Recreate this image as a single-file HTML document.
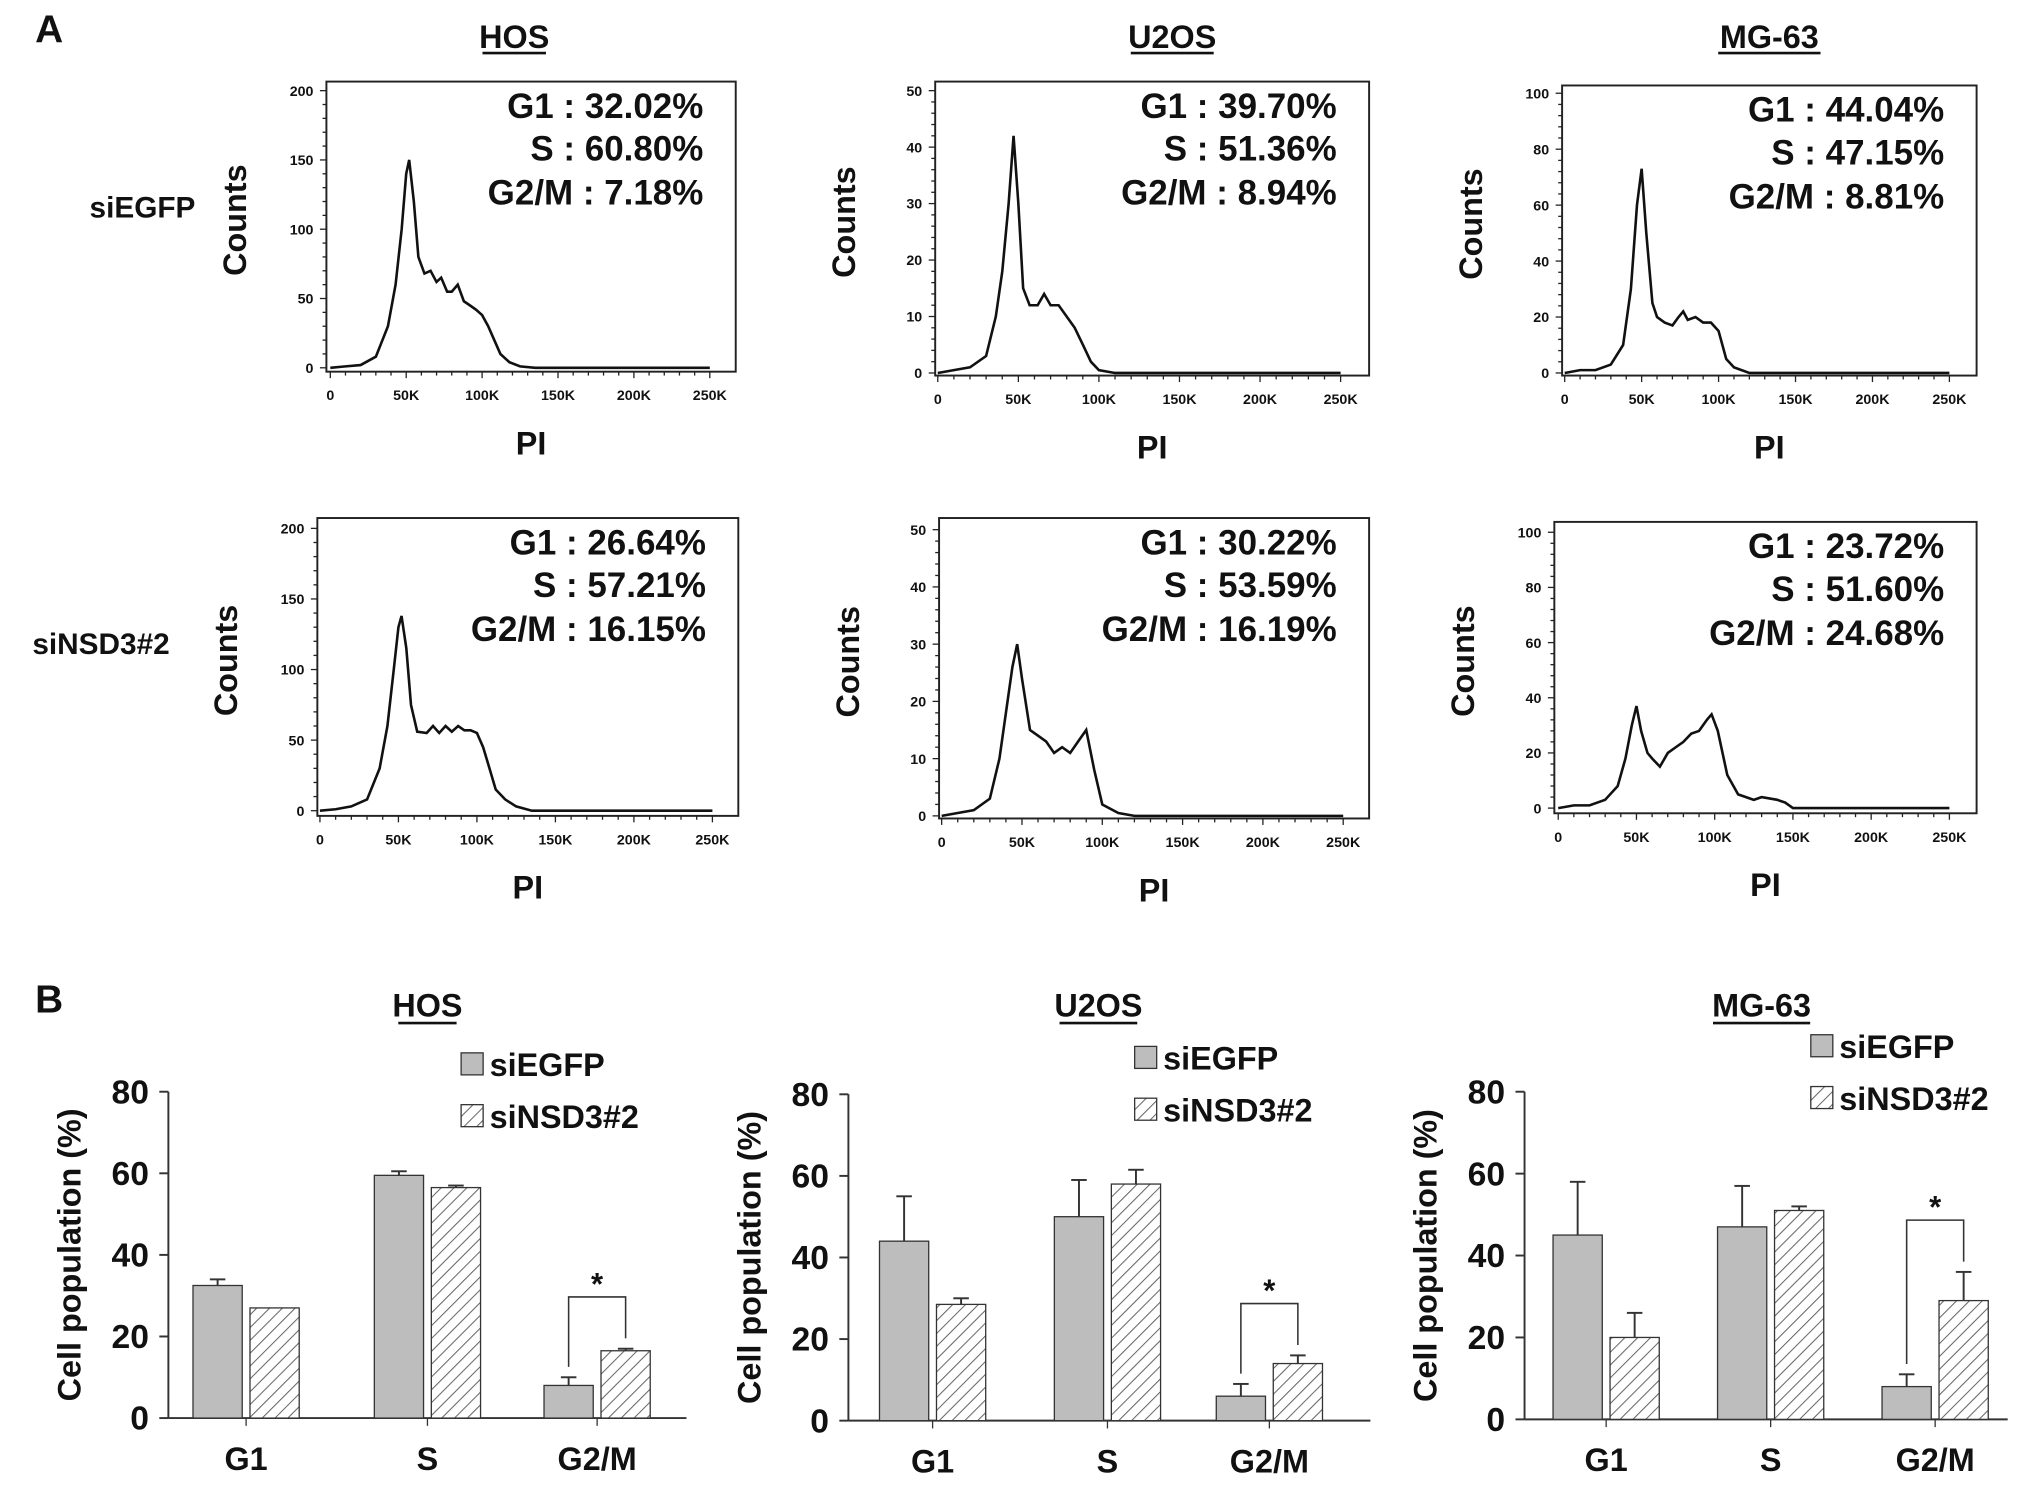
<!DOCTYPE html>
<html><head><meta charset="utf-8"><style>
html,body{margin:0;padding:0;background:#fff}
svg{display:block}
text{font-family:"Liberation Sans",Arial,sans-serif;font-weight:bold;fill:#111}
</style></head><body>
<svg id="fig" width="2031" height="1488" viewBox="0 0 1568 1149" preserveAspectRatio="none" xmlns="http://www.w3.org/2000/svg"></svg>
<script>
// ---------- Histogram data (PI in K, counts) ----------
const hosCtrlX=[0,10,20,30,38,43,47,50,52,55,58,62,66,70,73,77,80,84,88,92,96,100,104,108,112,118,125,135,250];
const hosCtrlY=[0,1,2,8,30,60,100,140,150,120,80,68,70,62,65,55,55,60,48,45,42,38,30,20,10,4,1,0,0];
const hosKdX=[0,10,20,30,38,43,47,50,52,55,58,62,68,72,76,80,84,88,92,96,100,104,108,112,118,125,135,250];
const hosKdY=[0,1,3,8,30,60,100,130,138,115,75,56,55,60,55,60,56,60,57,57,55,45,30,15,8,3,0,0];
const u2CtrlX=[0,10,20,30,36,40,44,47,50,53,57,62,66,70,75,80,85,90,95,100,110,250];
const u2CtrlY=[0,0.5,1,3,10,18,30,42,30,15,12,12,14,12,12,10,8,5,2,0.5,0,0];
const u2KdX=[0,10,20,30,36,40,44,47,50,55,60,65,70,75,80,85,90,95,100,110,120,250];
const u2KdY=[0,0.5,1,3,10,18,26,30,24,15,14,13,11,12,11,13,15,8,2,0.5,0,0];
const mgCtrlX=[0,10,20,30,38,43,47,50,53,57,60,65,70,74,77,80,85,90,95,100,105,110,120,250];
const mgCtrlY=[0,1,1,3,10,30,60,73,50,25,20,18,17,20,22,19,20,18,18,15,5,2,0,0];
const mgKdX=[0,10,20,30,38,43,47,50,53,57,60,65,70,75,80,85,90,95,98,102,108,115,125,130,140,145,150,250];
const mgKdY=[0,1,1,3,8,18,30,37,28,20,18,15,20,22,24,27,28,32,34,28,12,5,3,4,3,2,0,0];
const g1Text=["G1 : 32.02%","G1 : 39.70%","G1 : 44.04%","G1 : 26.64%","G1 : 30.22%","G1 : 23.72%"];
const sText=["S : 60.80%","S : 51.36%","S : 47.15%","S : 57.21%","S : 53.59%","S : 51.60%"];
const g2Text=["G2/M : 7.18%","G2/M : 8.94%","G2/M : 8.81%","G2/M : 16.15%","G2/M : 16.19%","G2/M : 24.68%"];
const xTickLabels=["0","50K","100K","150K","200K","250K"];
// ---------- Bar data ----------
const phases=["G1","S","G2/M"];
const hosEgfp=[32.5,59.5,8]; const hosEgfpErr=[1.5,1,2];
const hosNsd=[27,56.5,16.5]; const hosNsdErr=[0,0.5,0.5];
const u2Egfp=[44,50,6]; const u2EgfpErr=[11,9,3];
const u2Nsd=[28.5,58,14]; const u2NsdErr=[1.5,3.5,2];
const mgEgfp=[45,47,8]; const mgEgfpErr=[13,10,3];
const mgNsd=[20,51,29]; const mgNsdErr=[6,1,7];
const barTicks=[0,20,40,60,80];

const S="http://www.w3.org/2000/svg", svg=document.getElementById('fig');
function el(t,a,p){const e=document.createElementNS(S,t);for(const k in a)e.setAttribute(k,a[k]);(p||svg).appendChild(e);return e;}
function tx(x,y,s,size,anchor,p){const e=el('text',{x:x,y:y,'font-size':size,'text-anchor':anchor||'middle'},p);e.textContent=s;return e;}
const defs=el('defs',{});
const pat=el('pattern',{id:'hatch',width:7,height:7,patternUnits:'userSpaceOnUse',patternTransform:'rotate(45)'},defs);
el('rect',{width:7,height:7,fill:'#fff'},pat);
el('line',{x1:0,y1:0,x2:0,y2:7,stroke:'#666','stroke-width':1.6},pat);

const a=tx(38,33,"A",30,'middle');
const b=tx(38,782,"B",30,'middle');
[["HOS",397],["U2OS",905],["MG-63",1366]].forEach(([t,x])=>{
 const e=tx(x,37,t,25);
 const w=t.length*15;el('line',{x1:x-w/2-2,x2:x+w/2+2,y1:41,y2:41,stroke:'#111','stroke-width':2});
});
let r1=tx(110,168,"siEGFP",23);
let r2=tx(78,505,"siNSD3#2",23);

const hist=[
 {x0:252,x1:568,y0:63,y1:287,xz:255,x250:548,yz:284,ymax:200,yTop:70,ticks:[0,50,100,150,200],xs:hosCtrlX,ys:hosCtrlY},
 {x0:722,x1:1057,y0:63,y1:290,xz:724,x250:1035,yz:288,ymax:50,yTop:70,ticks:[0,10,20,30,40,50],xs:u2CtrlX,ys:u2CtrlY},
 {x0:1206,x1:1526,y0:66,y1:290,xz:1208,x250:1505,yz:288,ymax:100,yTop:72,ticks:[0,20,40,60,80,100],xs:mgCtrlX,ys:mgCtrlY},
 {x0:245,x1:570,y0:400,y1:630,xz:247,x250:550,yz:626,ymax:200,yTop:408,ticks:[0,50,100,150,200],xs:hosKdX,ys:hosKdY},
 {x0:725,x1:1057,y0:400,y1:632,xz:727,x250:1037,yz:630,ymax:50,yTop:409,ticks:[0,10,20,30,40,50],xs:u2KdX,ys:u2KdY},
 {x0:1200,x1:1526,y0:403,y1:628,xz:1203,x250:1505,yz:624,ymax:100,yTop:411,ticks:[0,20,40,60,80,100],xs:mgKdX,ys:mgKdY}];
hist.forEach((h,i)=>{
 const g=el('g',{});
 
 
 const X=v=>h.xz+(h.x250-h.xz)*v/250, Y=v=>h.yz-(h.yz-h.yTop)*v/h.ymax;
 el('rect',{x:h.x0,y:h.y0,width:h.x1-h.x0,height:h.y1-h.y0,fill:'none',stroke:'#222','stroke-width':1.5},g);
 h.ticks.forEach(t=>{el('line',{x1:h.x0-5,x2:h.x0,y1:Y(t),y2:Y(t),stroke:'#222'},g);tx(h.x0-10,Y(t)+4,String(t),11,'end',g);
   for(let k=1;k<5&&t<h.ymax;k++){const yy=Y(t+(h.ticks[1]-h.ticks[0])*k/5);el('line',{x1:h.x0-3,x2:h.x0,y1:yy,y2:yy,stroke:'#222'},g);}});
 xTickLabels.forEach((l,j)=>{const xx=X(j*50);el('line',{x1:xx,x2:xx,y1:h.y1,y2:h.y1+5,stroke:'#222'},g);tx(xx,h.y1+22,l,11,'middle',g);
   for(let k=1;k<5&&j<5;k++){const x2=X(j*50+k*10);el('line',{x1:x2,x2:x2,y1:h.y1,y2:h.y1+3,stroke:'#222'},g);}});
 el('path',{d:h.xs.map((v,j)=>(j?'L':'M')+X(v).toFixed(1)+','+Y(h.ys[j]).toFixed(1)).join(''),fill:'none',stroke:'#111','stroke-width':2},g);
 const cy=(h.y0+h.y1)/2-5;
 const c=tx(0,0,"Counts",25,'middle',g);c.setAttribute('transform',`translate(${h.x0-62},${cy}) rotate(-90)`);
 tx((h.x0+h.x1)/2,h.y1+64,"PI",25,'middle',g);
 const rx=h.x1-25;
 tx(rx,h.y0+28,g1Text[i],27,'end',g);tx(rx,h.y0+61,sText[i],27,'end',g);tx(rx,h.y0+95,g2Text[i],27,'end',g);
});

const bars=[
 {ax:130,yT:843,yB:1095,xe:530,cx:[190,330,461],e:hosEgfp,ee:hosEgfpErr,n:hosNsd,ne:hosNsdErr,lx:365,ly:822,title:"HOS",tx:330},
 {ax:655,yT:845,yB:1097,xe:1058,cx:[720,855,980],e:u2Egfp,ee:u2EgfpErr,n:u2Nsd,ne:u2NsdErr,lx:885,ly:817,title:"U2OS",tx:848},
 {ax:1177,yT:843,yB:1096,xe:1550,cx:[1240,1367,1494],e:mgEgfp,ee:mgEgfpErr,n:mgNsd,ne:mgNsdErr,lx:1407,ly:808,title:"MG-63",tx:1360}];
bars.forEach((c,i)=>{
 const g=el('g',{});
 
 
 const Y=v=>c.yB-(c.yB-c.yT)*v/80, bw=38;
 tx(c.tx,785,c.title,25,'middle',g);
 const w=c.title.length*15;el('line',{x1:c.tx-w/2,x2:c.tx+w/2,y1:790,y2:790,stroke:'#111','stroke-width':2},g);
 el('line',{x1:c.ax,x2:c.ax,y1:c.yT,y2:c.yB,stroke:'#333','stroke-width':1.5},g);
 el('line',{x1:c.ax,x2:c.xe,y1:c.yB,y2:c.yB,stroke:'#333','stroke-width':1.5},g);
 barTicks.forEach(t=>{el('line',{x1:c.ax-7,x2:c.ax,y1:Y(t),y2:Y(t),stroke:'#333','stroke-width':1.5},g);tx(c.ax-15,Y(t)+9,String(t),26,'end',g);});
 const yl=tx(0,0,"Cell population (%)",25,'middle',g);yl.setAttribute('transform',`translate(${c.ax-68},${(c.yT+c.yB)/2}) rotate(-90)`);
 phases.forEach((p,j)=>{
  const x=c.cx[j];
  tx(x,c.yB+40,p,25,'middle',g);
  el('line',{x1:x,x2:x,y1:c.yB,y2:c.yB+6,stroke:'#333'},g);
  const bx1=x-bw-3,bx2=x+3;
  const r1=el('rect',{x:bx1,y:Y(c.e[j]),width:bw,height:Y(0)-Y(c.e[j]),fill:'#bdbdbd',stroke:'#333','stroke-width':1},g);
  
  const r2=el('rect',{x:bx2,y:Y(c.n[j]),width:bw,height:Y(0)-Y(c.n[j]),fill:'url(#hatch)',stroke:'#333','stroke-width':1},g);
  
  [[bx1+bw/2,c.e[j],c.ee[j]],[bx2+bw/2,c.n[j],c.ne[j]]].forEach(([ex,v,er])=>{
   if(er>0){el('line',{x1:ex,x2:ex,y1:Y(v),y2:Y(v+er),stroke:'#333','stroke-width':1.5},g);el('line',{x1:ex-6,x2:ex+6,y1:Y(v+er),y2:Y(v+er),stroke:'#333','stroke-width':1.5},g);}
  });
  if(j===2){
   const xa=bx1+bw/2,xb=bx2+bw/2,top=Math.min(Y(c.e[j]+c.ee[j]),Y(c.n[j]+c.ne[j]))-40;
   el('path',{d:`M${xa},${Y(c.e[j]+c.ee[j])-8}V${top}H${xb}V${Y(c.n[j]+c.ne[j])-8}`,fill:'none',stroke:'#333','stroke-width':1.2},g);
   tx((xa+xb)/2,top-2,"*",24,'middle',g);
  }
 });
 el('rect',{x:c.lx-9,y:c.ly-9,width:17,height:17,fill:'#bdbdbd',stroke:'#333'},g);
 el('rect',{x:c.lx-9,y:c.ly+31,width:17,height:17,fill:'url(#hatch)',stroke:'#333'},g);
 tx(c.lx+13,c.ly+9,"siEGFP",25,'start',g);tx(c.lx+13,c.ly+49,"siNSD3#2",25,'start',g);
});
</script>
</body></html>
